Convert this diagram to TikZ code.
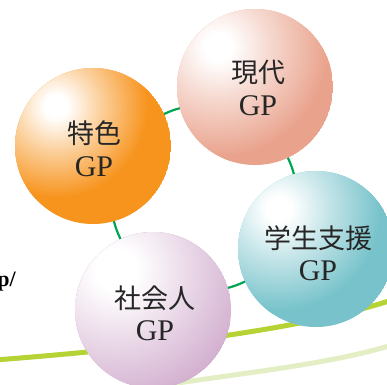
\documentclass[tikz,border=0pt]{standalone}
\usepackage{fontspec}
\setmainfont{Liberation Serif}
\newfontfamily\jpfont{Noto Sans CJK JP}
\usetikzlibrary{calc}
\definecolor{orgc}{HTML}{F7941E}
\definecolor{pinkc}{HTML}{E9A28C}
\definecolor{tealc}{HTML}{78C3CB}
\definecolor{purc}{HTML}{C597C1}
\definecolor{ringc}{HTML}{00A651}
\definecolor{limec}{HTML}{B5D334}
\definecolor{palec}{HTML}{E3EEC4}
\colorlet{ballc}{orgc}
\pgfdeclareradialshading[ballc]{myshade}{\pgfpoint{0bp}{0bp}}{%
  color(0bp)=(white); color(3bp)=(white); color(12bp)=(ballc!45!white);
  color(24bp)=(ballc); color(50bp)=(ballc)}
\tikzset{
  jp/.style={font=\jpfont\fontsize{27}{29}\selectfont, text=black!85, inner sep=0pt},
  gp/.style={font=\fontsize{30}{32}\selectfont, text=black!85, inner sep=0pt},
}
\newcommand\myball[4]{%
  \begin{scope}
    \colorlet{ballc}{#3}
    \clip (#1,#2) circle (78pt);
    \fill[#3] (#1,#2) circle (78pt);
    \shade[shading=myshade] ($(#1,#2)+(-37,-40)$) circle (#4);
  \end{scope}}
\begin{document}
\begin{tikzpicture}[x=1pt,y=-1pt]
\useasboundingbox (0,0) rectangle (387,384);
\clip (0,0) rectangle (387,384);
\fill[white] (0,0) rectangle (387,384);
% bottom curves
\draw[palec, line width=5pt] (150,387) .. controls (250,372) and (330,364) .. (392,345);
\draw[limec, line width=5pt] (-5,360) .. controls (150,348) and (300,330) .. (392,300);
% ring
\draw[ringc, line width=2.2pt] (204,198) circle (93pt);
% spheres
\myball{93}{146}{orgc}{95pt}
\myball{255}{87}{pinkc}{115pt}
\myball{316}{249}{tealc}{105pt}
\myball{153}{310}{purc}{175pt}
% labels
\node[jp] (t1) at (94,133) {特色};
\node[gp] (g1) at (94,167) {GP};
\node[jp] (t2) at (258,72) {現代};
\node[gp] (g2) at (258,106) {GP};
\node[jp] (t3) at (318,238) {学生支援};
\node[gp] (g3) at (318,271) {GP};
\node[jp] (t4) at (155,298) {社会人};
\node[gp] (g4) at (155,331) {GP};
\node[font=\fontsize{22}{24}\selectfont\bfseries, inner sep=0pt, anchor=east] (pp) at (16,282) {p/};
\end{tikzpicture}
\end{document}
